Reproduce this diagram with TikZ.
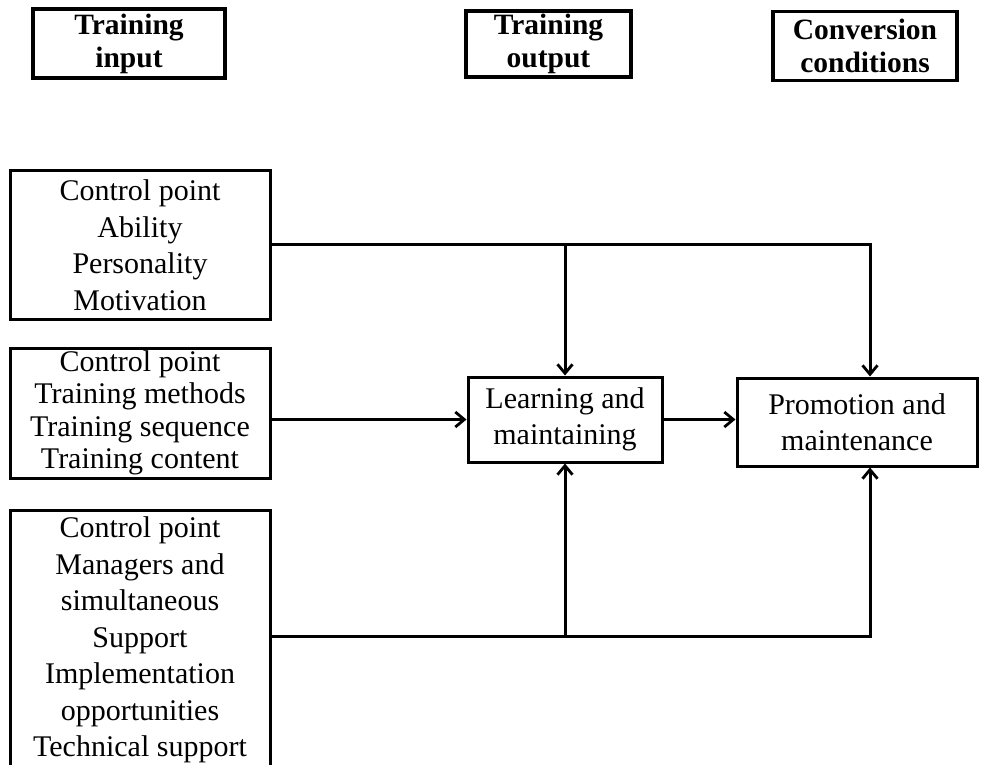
\documentclass[tikz,border=0pt]{standalone}
\usepackage{fontspec}
\setmainfont{Liberation Serif}
\usetikzlibrary{arrows.meta}
\begin{document}
\begin{tikzpicture}[x=1pt,y=-1pt,
  box/.style={draw, line width=3pt, rectangle, inner sep=0pt, align=center},
  hdr/.style={box, line width=3.4pt, font=\bfseries\fontsize{29.5}{33}\selectfont},
  body/.style={box, font=\fontsize{30}{36.5}\selectfont},
  conn/.style={line width=3pt, -{Straight Barb[length=9pt,width=15pt,line width=2.8pt]}},
  seg/.style={line width=3pt}]
\useasboundingbox (0,0) rectangle (992,764);
\clip (0,0) rectangle (992,764);
% headers
\node[hdr, minimum width=192, minimum height=69] (h1) at (129,43.5) {Training\\input};
\node[hdr, minimum width=165, minimum height=66] (h2) at (548.5,44) {Training\\output};
\node[hdr, minimum width=184, minimum height=69] (h3) at (865,46) {Conversion\\conditions};
% input boxes
\node[body, minimum width=260, minimum height=149] (b1) at (140,245) {Control point\\Ability\\Personality\\Motivation};
\node[body, minimum width=260, minimum height=130, font=\fontsize{30}{32.5}\selectfont] (b2) at (140,413) {Control point\\Training methods\\Training sequence\\Training content};
\node[body, minimum width=260, minimum height=270, anchor=north] (b3) at (140,509) {\rule{0pt}{0pt}\\[-27pt]Control point\\Managers and\\simultaneous\\Support\\Implementation\\opportunities\\Technical support};
% output boxes
\node[body, minimum width=194, minimum height=85] (lm) at (565,419.5) {Learning and\\maintaining};
\node[body, minimum width=240, minimum height=88] (pm) at (857,422) {Promotion and\\maintenance};
% connectors
\coordinate (t1) at (565,244);
\coordinate (t2) at (870,244);
\coordinate (u1) at (565,636);
\coordinate (u2) at (870,636);
\draw[conn] (b1.east |- t1) -- (t2) -- (pm.north -| t2);
\draw[conn] (t1) -- (lm.north -| t1);
\draw[conn] (b2.east |- lm.west) -- (lm.west);
\draw[conn] (lm.east) -- (pm.west |- lm.east);
\draw[conn] (b3.east |- u1) -- (u2) -- (pm.south -| u2);
\draw[conn] (u1) -- (lm.south -| u1);
\end{tikzpicture}
\end{document}
